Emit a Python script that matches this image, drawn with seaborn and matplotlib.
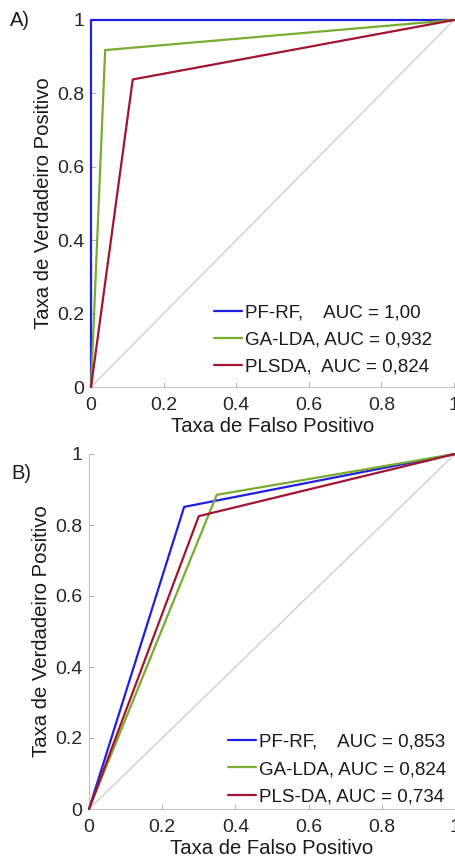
import matplotlib
matplotlib.use("Agg")
import matplotlib.pyplot as plt
import seaborn as sns
import pandas as pd

# ---- data ----
models_a = ["PF-RF", "GA-LDA", "PLSDA"]
labels_a = ["PF-RF,    AUC = 1,00", "GA-LDA, AUC = 0,932", "PLSDA,  AUC = 0,824"]
fpr_a = {"PF-RF": [0, 0, 1], "GA-LDA": [0, 0.039, 1], "PLSDA": [0, 0.115, 1]}
tpr_a = {"PF-RF": [0, 1, 1], "GA-LDA": [0, 0.918, 1], "PLSDA": [0, 0.838, 1]}

models_b = ["PF-RF", "GA-LDA", "PLS-DA"]
labels_b = ["PF-RF,    AUC = 0,853", "GA-LDA, AUC = 0,824", "PLS-DA, AUC = 0,734"]
fpr_b = {"PF-RF": [0, 0.26, 1], "GA-LDA": [0, 0.349, 1], "PLS-DA": [0, 0.30, 1]}
tpr_b = {"PF-RF": [0, 0.851, 1], "GA-LDA": [0, 0.885, 1], "PLS-DA": [0, 0.825, 1]}

diag_x = [0, 1]
diag_y = [0, 1]

tick_vals = [0, 0.2, 0.4, 0.6, 0.8, 1]
tick_labels = ["0", "0.2", "0.4", "0.6", "0.8", "1"]

colors = ["#1f1fe0", "#77ac30", "#a2142f"]

sns.set_theme(style="white")
plt.rcParams["font.family"] = ["Liberation Sans", "DejaVu Sans"]


def build_df(models, fpr, tpr):
    rows = []
    for m in models:
        for i, (x, y) in enumerate(zip(fpr[m], tpr[m])):
            rows.append({"model": m, "order": i, "fpr": x, "tpr": y})
    return pd.DataFrame(rows)


fig = plt.figure(figsize=(4.56, 8.58), dpi=100)
ax_a = fig.add_axes([91 / 456, (858 - 387) / 858, 363 / 456, 367 / 858])
ax_b = fig.add_axes([89 / 456, (858 - 809) / 858, 366 / 456, 355 / 858])


def draw(ax, models, labels, fpr, tpr, legend_anchor):
    ax.plot(diag_x, diag_y, color="#cfcfcf", lw=1.0, zorder=1)
    df = build_df(models, fpr, tpr)
    sns.lineplot(data=df, x="fpr", y="tpr", hue="model", hue_order=models,
                 palette=colors, sort=False, estimator=None, units="model",
                 lw=1.6, ax=ax, zorder=3, legend=True)
    for ln in ax.lines:
        ln.set_clip_on(False)
    ax.set_xlim(0, 1)
    ax.set_ylim(0, 1)
    ax.set_xticks(tick_vals)
    ax.set_xticklabels(tick_labels)
    ax.set_yticks(tick_vals)
    ax.set_yticklabels(tick_labels)
    for s in ["top", "right"]:
        ax.spines[s].set_visible(False)
    for s in ["left", "bottom"]:
        ax.spines[s].set_color("#c4c4c4")
        ax.spines[s].set_linewidth(0.8)
    ax.tick_params(axis="both", direction="in", length=3.5, width=0.7,
                   color="#b0b0b0", labelsize=14, labelcolor="#262626", pad=5,
                   bottom=True, left=True)
    ax.tick_params(axis="x", pad=7)
    ax.set_xlabel("Taxa de Falso Positivo", fontsize=14.6, color="#1a1a1a", labelpad=2)
    ax.set_ylabel("Taxa de Verdadeiro Positivo", fontsize=14.6, color="#1a1a1a", labelpad=3)
    handles, _ = ax.get_legend_handles_labels()
    ax.legend(handles[:3], labels, loc="lower right", bbox_to_anchor=legend_anchor,
              frameon=False, fontsize=13.5, handlelength=1.5, handletextpad=0.15,
              labelspacing=0.55, borderpad=0, borderaxespad=0, labelcolor="#1a1a1a")
    ax.patch.set_alpha(0)


draw(ax_a, models_a, labels_a, fpr_a, tpr_a, (0.94, 0.03))
draw(ax_b, models_b, labels_b, fpr_b, tpr_b, (0.975, 0.01))

fig.text(10 / 456, 1 - 20 / 858, "A)", fontsize=14.5, va="center", ha="left", color="#1a1a1a")
fig.text(11 / 456, 1 - 473 / 858, "B)", fontsize=14.5, va="center", ha="left", color="#1a1a1a")

fig.savefig("out.png", dpi=100)
